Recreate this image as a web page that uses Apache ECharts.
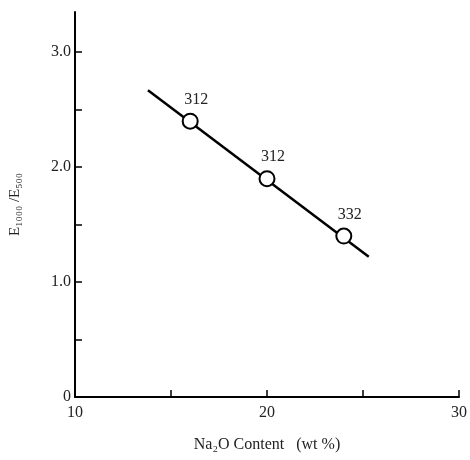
<!DOCTYPE html>
<html><head><meta charset="utf-8">
<script src="https://cdn.jsdelivr.net/npm/echarts@6/dist/echarts.min.js"></script>
<style>html,body{margin:0;padding:0;background:#fff}#c{width:470px;height:460px}</style>
</head><body><div id="c"></div>
<script>
const pointX = [16, 20, 24];
const pointY = [2.4, 1.9, 1.4];
const pointLabels = ['312', '312', '332'];
const lineX = [13.8, 25.3];
const lineY = [2.67, 1.22];
const xTicks = [10, 15, 20, 25, 30];
const xTickLabels = [10, 20, 30];
const yTicks = [0, 0.5, 1, 1.5, 2, 2.5, 3];
const yTickLabels = [0, 1, 2, 3];

const font = '"Liberation Serif", "DejaVu Serif", serif';
const chart = echarts.init(document.getElementById('c'));
chart.setOption({
  animation: false,
  backgroundColor: '#fff',
  grid: { left: 73, right: 10, top: 12, bottom: 63, containLabel: false },
  xAxis: {
    type: 'value', min: 10, max: 30,
    name: 'Na₂O Content   (wt %)', nameLocation: 'middle', nameGap: 40,
    nameTextStyle: { fontFamily: font, fontSize: 16, color: '#222' },
    axisLine: { lineStyle: { color: '#000', width: 2 } },
    axisTick: { inside: true, length: 7, customValues: xTicks, lineStyle: { color: '#000', width: 1.5 } },
    axisLabel: { customValues: xTickLabels, fontFamily: font, fontSize: 16, color: '#222', margin: 8 },
    splitLine: { show: false }
  },
  yAxis: {
    type: 'value', min: 0, max: 3.35,
    name: 'E₁₀₀₀ /E₅₀₀', nameLocation: 'middle', nameGap: 52, nameRotate: 90,
    nameTextStyle: { fontFamily: font, fontSize: 15, color: '#222' },
    axisLine: { lineStyle: { color: '#000', width: 2 } },
    axisTick: { inside: true, length: 7, customValues: yTicks, lineStyle: { color: '#000', width: 1.5 } },
    axisLabel: { customValues: yTickLabels, fontFamily: font, fontSize: 16, color: '#222', margin: 4,
      formatter: v => v === 0 ? '0' : v.toFixed(1) },
    splitLine: { show: false }
  },
  series: [
    {
      type: 'line', data: lineX.map((x, i) => [x, lineY[i]]),
      showSymbol: false, lineStyle: { color: '#000', width: 2.5 }, silent: true, z: 1
    },
    {
      type: 'scatter', data: pointX.map((x, i) => [x, pointY[i]]),
      symbol: 'circle', symbolSize: 15,
      itemStyle: { color: '#fff', borderColor: '#000', borderWidth: 2, opacity: 1 }, z: 3,
      label: {
        show: true, position: 'top', distance: 5, offset: [6, 0],
        formatter: p => pointLabels[p.dataIndex],
        fontFamily: font, fontSize: 16, color: '#222'
      }
    }
  ]
});
</script></body></html>
